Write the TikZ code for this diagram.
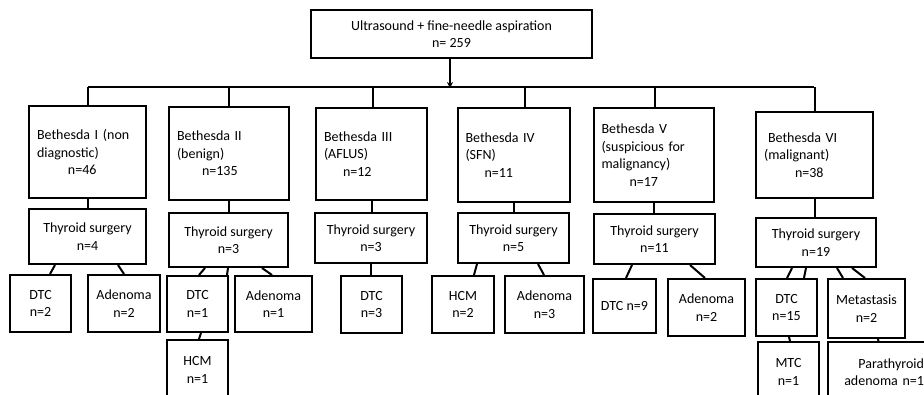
\documentclass[tikz,border=0pt]{standalone}
\usepackage{fontspec}
\setmainfont{Carlito}
\usetikzlibrary{arrows.meta}
\begin{document}
\begin{tikzpicture}[x=1pt,y=-1pt,
  box/.style={draw,line width=2pt,inner sep=0pt,align=center,font=\fontsize{14}{17.5}\selectfont},
  beth/.style={box,align=left,inner xsep=8pt},
  conn/.style={line width=2pt}]
\useasboundingbox (0,0) rectangle (924,394);
\clip (0,0) rectangle (924,394);
% top
\node[box,minimum width=281,minimum height=48] (top) at (451.5,34) {Ultrasound + fine-needle aspiration\\n= 259};
% Bethesda
\node[beth,minimum width=117,minimum height=92,text width=101] (B1) at (87.5,152) {Bethesda I (non\\diagnostic)\\\hspace*{31pt}n=46};
\node[beth,minimum width=120,minimum height=93,text width=104] (B2) at (229,153.5) {Bethesda II\\(benign)\\\hspace*{25pt}n=135};
\node[beth,minimum width=111,minimum height=92,text width=95] (B3) at (371.5,154) {Bethesda III\\(AFLUS)\\\hspace*{19pt}n=12};
\node[beth,minimum width=111,minimum height=94,text width=96] (B4) at (513.5,155) {Bethesda IV\\(SFN)\\\hspace*{19pt}n=11};
\node[beth,minimum width=119,minimum height=94,text width=104] (B5) at (653.5,155) {Bethesda V\\(suspicious for\\malignancy)\\\hspace*{28pt}n=17};
\node[beth,minimum width=117,minimum height=86,text width=101] (B6) at (814.5,155) {\hspace*{4pt}Bethesda VI\\(malignant)\\\hspace*{31pt}n=38};
% surgery
\node[box,minimum width=117,minimum height=55] (S1) at (87.5,236.5) {Thyroid surgery\\n=4};
\node[box,minimum width=119,minimum height=54] (S2) at (228.5,240) {Thyroid surgery\\n=3};
\node[box,minimum width=112,minimum height=50] (S3) at (371,238) {Thyroid surgery\\n=3};
\node[box,minimum width=111,minimum height=50] (S4) at (513.5,238) {Thyroid surgery\\n=5};
\node[box,minimum width=121,minimum height=50] (S5) at (654.5,239) {Thyroid surgery\\n=11};
\node[box,minimum width=120,minimum height=49] (S6) at (816,242.5) {Thyroid surgery\\n=19};
% leaves
\node[box,minimum width=61,minimum height=57] (L1a) at (40.5,303.5) {DTC\\n=2};
\node[box,minimum width=72,minimum height=57] (L1b) at (124,303.5) {Adenoma\\n=2};
\node[box,minimum width=61,minimum height=56] (L2a) at (197.5,304) {DTC\\n=1};
\node[box,minimum width=77,minimum height=56] (L2b) at (273.5,304) {Adenoma\\n=1};
\node[box,minimum width=61,minimum height=60] (L2c) at (197.5,370) {HCM\\n=1};
\node[box,minimum width=61,minimum height=57] (L3) at (371.5,304.5) {DTC\\n=3};
\node[box,minimum width=62,minimum height=57] (L4a) at (463,304.5) {HCM\\n=2};
\node[box,minimum width=79,minimum height=57] (L4b) at (544.5,304.5) {Adenoma\\n=3};
\node[box,minimum width=63,minimum height=54] (L5a) at (624.5,306) {DTC n=9};
\node[box,minimum width=77,minimum height=57] (L5b) at (706.5,307.5) {Adenoma\\n=2};
\node[box,minimum width=61,minimum height=57] (L6a) at (786.5,307.5) {DTC\\n=15};
\node[box,minimum width=77,minimum height=59] (L6b) at (866.5,308.5) {Metastasis\\n=2};
\node[box,minimum width=61,minimum height=60] (L6c) at (788.5,372) {MTC\\n=1};
\node[box,minimum width=99,minimum height=60,text width=93,align=right,inner xsep=3pt] (L6d) at (877.5,372) {Parathyroid\\adenoma n=1};
% bus and arrow
\coordinate (busL) at (88,87);
\coordinate (busR) at (814,87);
\coordinate (arr) at (450,87);
\draw[conn,-{Stealth[length=6pt,width=6pt]}] ([xshift=-1.5pt]top.south) -- ([yshift=-1pt]arr);
\draw[conn] (busL) -- (busR);
\draw[conn] (B1.north) -- (B1.north |- busL);
\draw[conn] (B2.north) -- (B2.north |- busL);
\draw[conn] ([xshift=1.5pt]B3.north) -- ([xshift=1.5pt]B3.north |- busL);
\draw[conn] ([xshift=11.5pt]B4.north) -- ([xshift=11.5pt]B4.north |- busL);
\draw[conn] ([xshift=1.5pt]B5.north) -- ([xshift=1.5pt]B5.north |- busL);
\draw[conn] (B6.north) -- (B6.north |- busL);
% Bethesda -> surgery
\foreach \i in {1,...,6} {\draw[conn] (B\i.south) -- (B\i.south |- S\i.north);}
% surgery -> leaves
\draw[conn] ([xshift=-32.5pt]S1.south) -- ([xshift=9.5pt]L1a.north);
\draw[conn] ([xshift=30.5pt]S1.south) -- (L1b.north);
\draw[conn] ([xshift=-23.5pt]S2.south) -- ([xshift=1.5pt]L2a.north);
\draw[conn] ([xshift=-0.5pt]S2.south) -- ([xshift=29.5pt]L2a.north);
\draw[conn] ([xshift=33.5pt]S2.south) -- ([xshift=-1.5pt]L2b.north);
\draw[conn] ([xshift=3.5pt]L2a.south) -- ([xshift=1.5pt]L2c.north);
\draw[conn] (S3.south) -- (S3.south |- L3.north);
\draw[conn] ([xshift=-36.5pt]S4.south) -- ([xshift=11pt]L4a.north);
\draw[conn] ([xshift=24.5pt]S4.south) -- ([xshift=-0.5pt]L4b.north);
\draw[conn] ([xshift=-22.5pt]S5.south) -- ([xshift=1.5pt]L5a.north);
\draw[conn] ([xshift=35.5pt]S5.south) -- ([xshift=-1.5pt]L5b.north);
\draw[conn] ([xshift=-24pt]S6.south) -- ([xshift=0.5pt]L6a.north);
\draw[conn] ([xshift=-10pt]S6.south) -- ([xshift=17.5pt]L6a.north);
\draw[conn] ([xshift=21pt]S6.south) -- ([xshift=-23.5pt]L6b.north);
\draw[conn] ([xshift=36pt]S6.south) -- ([xshift=-1.5pt]L6b.north);
\draw[conn] ([xshift=2.5pt]L6a.south) -- ([xshift=1.5pt]L6c.north);
\draw[conn] ([xshift=11.5pt]L6b.south) -- ([xshift=1pt]L6d.north);
\end{tikzpicture}
\end{document}
